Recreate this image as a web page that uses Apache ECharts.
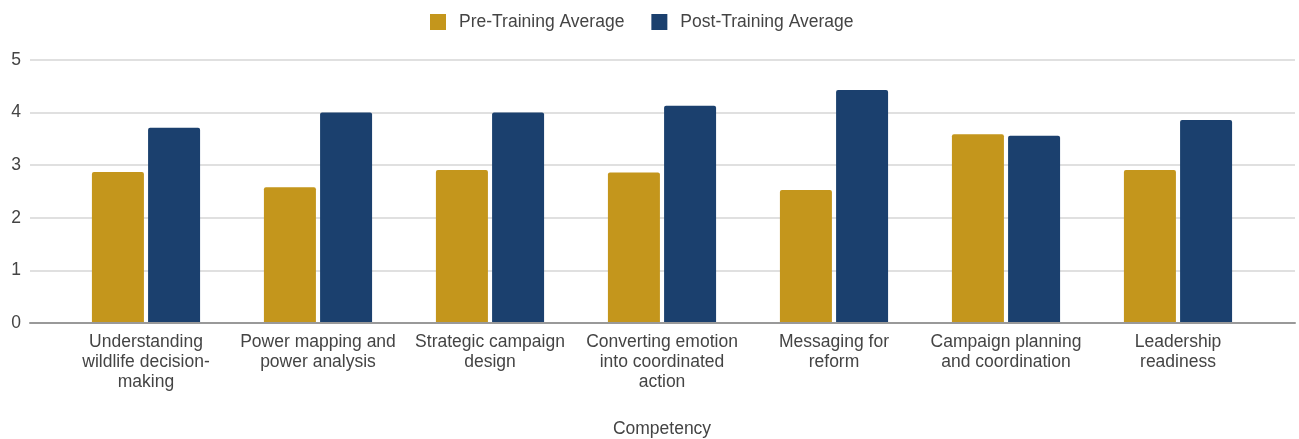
<!DOCTYPE html>
<html>
<head>
<meta charset="utf-8">
<script src="https://cdn.jsdelivr.net/npm/echarts@6/dist/echarts.min.js"></script>
<style>
html,body{margin:0;padding:0;background:#fff;}
#chart{width:1299px;height:439px;}
</style>
</head>
<body>
<div id="chart"></div>
<script>
const categories = [
  "Understanding\nwildlife decision-\nmaking",
  "Power mapping and\npower analysis",
  "Strategic campaign\ndesign",
  "Converting emotion\ninto coordinated\naction",
  "Messaging for\nreform",
  "Campaign planning\nand coordination",
  "Leadership\nreadiness"
];
const preTraining = [2.87, 2.58, 2.91, 2.86, 2.53, 3.59, 2.91];
const postTraining = [3.71, 4.0, 4.0, 4.13, 4.43, 3.56, 3.86];
const seriesNames = ["Pre-Training Average", "Post-Training Average"];
const xAxisTitle = "Competency";

const FONT = "'Liberation Sans', Arial, sans-serif";
const TXT = "#444";
const chart = echarts.init(document.getElementById('chart'), null, {renderer: 'canvas'});
chart.setOption({
  animation: false,
  textStyle: {fontFamily: FONT},
  legend: {
    left: 425, top: 8,
    itemWidth: 16, itemHeight: 16, itemGap: 27,
    icon: 'rect',
    textStyle: {fontFamily: FONT, fontSize: 17.5, color: TXT, padding: [0, 0, 0, 8]},
    data: seriesNames
  },
  grid: [
    {left: 30, right: 4, top: 60, bottom: 116, containLabel: false, outerBoundsMode: 'none'},
    {left: 60, right: 35, top: 60, bottom: 116, containLabel: false, outerBoundsMode: 'none'}
  ],
  xAxis: [
    {gridIndex: 0, type: 'category', data: categories, z: 10,
     axisLine: {show: true, onZero: false, lineStyle: {color: '#999', width: 2}},
     axisTick: {show: false}, axisLabel: {show: false}, splitLine: {show: false}},
    {gridIndex: 1, type: 'category', data: categories,
     axisLine: {show: false}, axisTick: {show: false}, splitLine: {show: false},
     axisLabel: {fontFamily: FONT, fontSize: 17.5, color: TXT, lineHeight: 20, margin: 9, interval: 0},
     name: xAxisTitle, nameLocation: 'middle', nameGap: 97,
     nameTextStyle: {fontFamily: FONT, fontSize: 17.5, color: TXT}}
  ],
  yAxis: [
    {gridIndex: 0, type: 'value', min: 0, max: 5, interval: 1,
     axisLine: {show: false}, axisTick: {show: false},
     axisLabel: {fontFamily: FONT, fontSize: 17.5, color: TXT, margin: 9},
     splitLine: {show: true, lineStyle: {color: '#e0e0e0', width: 2}}},
    {gridIndex: 1, type: 'value', min: 0, max: 5, interval: 1, show: false,
     splitLine: {show: false}}
  ],
  series: [
    {name: seriesNames[0], type: 'bar', xAxisIndex: 1, yAxisIndex: 1,
     data: preTraining, barWidth: 52, barGap: '8%',
     itemStyle: {color: '#C4961C', borderWidth: 0, borderRadius: [2, 2, 0, 0]}},
    {name: seriesNames[1], type: 'bar', xAxisIndex: 1, yAxisIndex: 1,
     data: postTraining, barWidth: 52,
     itemStyle: {color: '#1B406E', borderWidth: 0, borderRadius: [2, 2, 0, 0]}}
  ]
});
</script>
</body>
</html>
